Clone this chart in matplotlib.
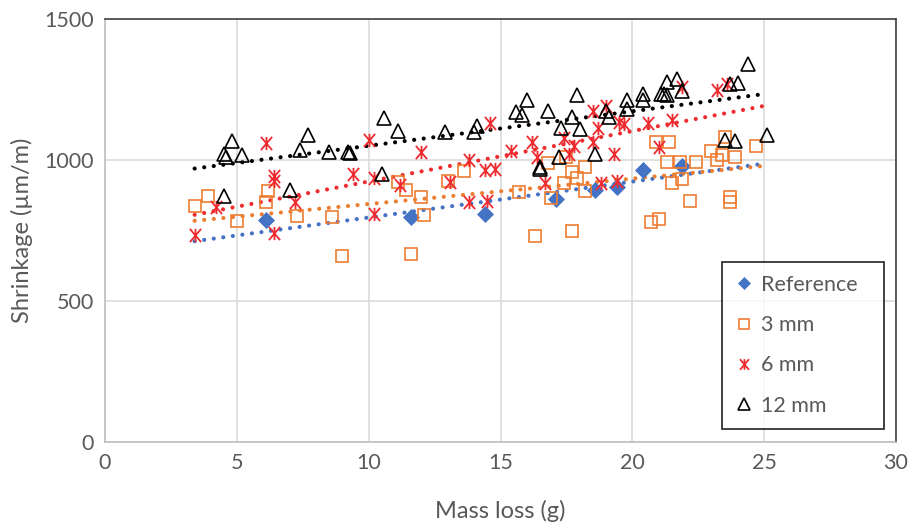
import numpy as np
import matplotlib
matplotlib.use("Agg")
import matplotlib.pyplot as plt
from matplotlib.path import Path
from matplotlib.lines import Line2D

plt.rcParams['font.family'] = ['Lato', 'DejaVu Sans']

# Mass loss (g) and shrinkage (um/m) for each mix
ref_x = [6.1, 11.6, 14.4, 17.1, 18.6, 19.4, 20.4, 21.9]
ref_y = [788, 797, 809, 862, 892, 906, 965, 980]

mm3_x = [3.4, 3.9, 5.0, 6.1, 6.2, 7.3, 8.6, 9.0, 11.1, 11.4, 11.6, 12.0, 12.1,
         13.0, 13.6, 15.7, 16.3, 16.8, 16.9, 17.4, 17.5, 17.7, 17.7, 17.9, 18.2,
         18.2, 20.7, 20.9, 21.0, 21.3, 21.4, 21.5, 21.8, 21.9, 22.2, 22.4, 23.0,
         23.2, 23.4, 23.5, 23.7, 23.7, 23.9, 24.7]
mm3_y = [836, 874, 785, 850, 889, 803, 797, 661, 922, 893, 667, 868, 805,
         924, 962, 886, 730, 990, 867, 920, 1010, 956, 750, 936, 974,
         889, 779, 1063, 791, 992, 1063, 918, 992, 933, 856, 992, 1031,
         1000, 1019, 1081, 868, 850, 1012, 1048]

mm6_x = [3.4, 4.2, 6.1, 6.4, 6.4, 6.4, 7.2, 9.4, 10.0, 10.2, 10.2, 11.2, 12.0,
         13.1, 13.8, 13.8, 14.4, 14.5, 14.6, 14.8, 15.4, 16.2, 16.4, 16.7, 17.4,
         17.6, 17.8, 18.5, 18.5, 18.7, 18.8, 19.0, 19.3, 19.4, 19.5, 19.7, 20.6,
         21.0, 21.5, 21.9, 23.2, 23.6]
mm6_y = [735, 835, 1060, 945, 927, 740, 850, 950, 1071, 937, 807, 910, 1028,
         921, 1001, 850, 963, 854, 1131, 969, 1031, 1063, 1011, 918, 1079,
         1022, 1048, 1175, 1063, 1114, 918, 1190, 1022, 927, 1134, 1128, 1130,
         1045, 1143, 1258, 1249, 1270]

mm12_x = [4.5, 4.5, 4.6, 4.8, 5.2, 7.0, 7.4, 7.7, 8.5, 9.2, 9.3, 10.5, 10.6,
          11.1, 12.9, 14.0, 14.1, 15.6, 15.8, 16.0, 16.5, 16.5, 16.8, 17.2,
          17.3, 17.7, 17.9, 18.0, 18.6, 19.0, 19.1, 19.8, 19.8, 20.4, 20.4,
          21.1, 21.2, 21.3, 21.3, 21.7, 21.9, 23.5, 23.7, 23.9, 24.0, 24.4, 25.1]
mm12_y = [874, 1022, 1010, 1067, 1016, 892, 1034, 1087, 1028, 1028, 1024, 951,
          1150, 1102, 1099, 1099, 1122, 1170, 1161, 1211, 969, 975, 1175, 1010,
          1114, 1154, 1229, 1111, 1022, 1175, 1152, 1211, 1182, 1235, 1213,
          1235, 1235, 1276, 1229, 1288, 1246, 1072, 1270, 1069, 1272, 1339, 1087]

labels = ["Reference", "3 mm", "6 mm", "12 mm"]
x_ticks = [0, 5, 10, 15, 20, 25, 30]
y_ticks = [0, 500, 1000, 1500]

BLUE = "#4472C4"
ORANGE = "#ED7D31"
RED = "#EE2B2F"
BLACK = "#000000"
TXT = "#595959"

# Asterisk marker: an X crossed by a vertical bar
ast = Path([(-0.85, -1), (0.85, 1), (-0.85, 1), (0.85, -1), (0, -1), (0, 1)],
           [Path.MOVETO, Path.LINETO, Path.MOVETO, Path.LINETO, Path.MOVETO, Path.LINETO])

fig = plt.figure(figsize=(9.09, 5.24), dpi=100)
ax = fig.add_axes([105 / 909, 1 - 442 / 524, 791 / 909, 423 / 524])

ax.set_xlim(0, 30)
ax.set_ylim(0, 1500)
ax.set_xticks(x_ticks)
ax.set_yticks(y_ticks)
ax.grid(True, color="#d9d9d9", linewidth=1.1, zorder=0)
ax.set_axisbelow(True)
ax.tick_params(length=0, labelsize=15.5, colors=TXT, pad=8)
for s in ("left", "bottom"):
    ax.spines[s].set_color("#bfbfbf")
    ax.spines[s].set_linewidth(1.2)
for s in ("top", "right"):
    ax.spines[s].set_color("#404040")
    ax.spines[s].set_linewidth(1.2)

series = [
    (ref_x, ref_y, BLUE, dict(marker="D", ms=8.0, mfc=BLUE, mec=BLUE, mew=0.5)),
    (mm3_x, mm3_y, ORANGE, dict(marker="s", ms=9.0, mfc="none", mec=ORANGE, mew=1.2)),
    (mm6_x, mm6_y, RED, dict(marker=ast, ms=9.5, mfc="none", mec=RED, mew=1.3)),
    (mm12_x, mm12_y, BLACK, dict(marker="^", ms=10.5, mfc="none", mec=BLACK, mew=1.2)),
]

all_x = np.concatenate([np.asarray(s[0], float) for s in series])
xt = np.array([all_x.min(), 25.0])

handles = []
for (xs, ys, col, mk), lab in zip(series, labels):
    ax.plot(xs, ys, linestyle="none", zorder=3, **mk)
    k, b = np.polyfit(xs, ys, 1)
    ax.plot(xt, k * xt + b, color=col, linewidth=3.0,
            linestyle=(0, (0.01, 2.3)), dash_capstyle="round", zorder=2)
    handles.append(Line2D([], [], linestyle="none", label=lab, **mk))

ax.set_xlabel("Mass loss (g)", fontsize=17, color=TXT, labelpad=19)
ax.set_ylabel("Shrinkage (\u00b5m/m)", fontsize=17, color=TXT, labelpad=8)

leg = ax.legend(handles=handles, loc="upper left",
                bbox_to_anchor=(0.78, 0.038, 0.205, 0.3875), mode="expand",
                fontsize=15.5, frameon=True, fancybox=False, markerscale=0.8,
                handlelength=0.8, handletextpad=0.4, labelspacing=0.94,
                borderpad=0.6, borderaxespad=0)
leg.get_frame().set_edgecolor("black")
leg.get_frame().set_linewidth(1.3)
for t in leg.get_texts():
    t.set_color(TXT)

fig.savefig("out.png", dpi=100)
